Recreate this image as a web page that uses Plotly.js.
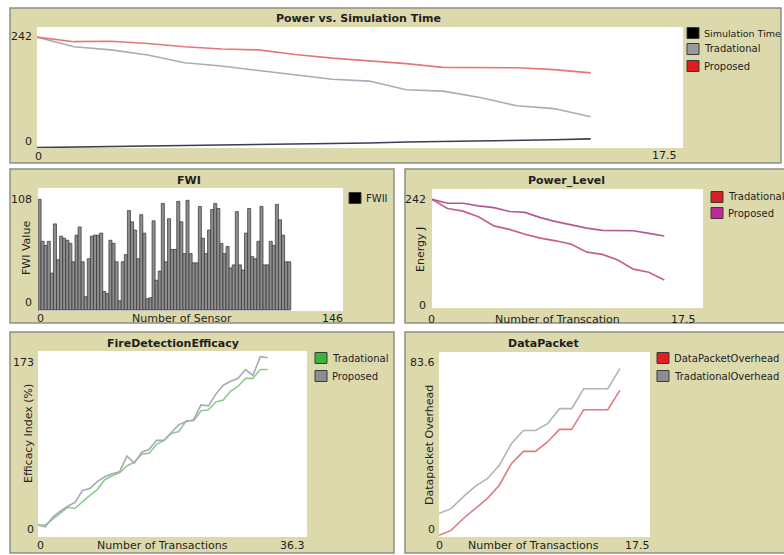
<!DOCTYPE html>
<html>
<head>
<meta charset="utf-8">
<script src="https://cdn.plot.ly/plotly-3.0.1.min.js"></script>
<style>html,body{margin:0;padding:0;background:#fff;}#chart{width:784px;height:555px;}</style>
</head>
<body>
<div id="chart"></div>
<script>
// ---------- DATA ----------
const steps = [0,1,2,3,4,5,6,7,8,9,10,11,12,13,14,15];
const topSimTime = [1,2,3,4,5,6,8,9,10,11,13,14,15,17,18,20];
const topTradational = [242,221,214,203,186,179,169,159,150,146,127,124,110,92,86,68];
const topProposed = [242,232,233,228,221,216,214,204,196,190,184,176,175,175,171,164];

const fwiValues = [108,67,63,67,36,84,49,72,70,68,65,47,73,81,47,13,50,72,73,73,75,18,16,68,65,47,9,47,54,97,86,78,50,93,75,11,12,87,29,38,104,47,89,59,59,106,86,55,107,55,46,46,101,70,55,78,98,104,99,65,55,62,41,44,96,44,39,75,99,52,50,67,101,44,44,67,63,103,88,73,47,47];

const plTradational = [242,221,215,202,181,173,162,153,147,139,121,116,103,82,75,57];
const plProposed = [242,233,233,227,223,214,212,200,191,184,176,171,170,170,164,158];

const fdeX = [0,1,2,3,4,5,6,7,8,9,10,11,12,13,14,15,16,17,18,19,20,21,22,23,24,25,26,27,28,29,30,31];
const fdeTradational = [2,2,8,14,20,19,26,32,38,48,52,55,62,66,74,75,84,88,95,97,108,108,118,119,127,129,138,143,151,151,160,160];
const fdeProposed = [2,0,10,16,21,25,37,39,46,51,54,56,72,65,76,79,88,88,96,104,107,109,124,123,135,144,148,151,160,154,173,172];

const dpOverhead = [0,2.4,8.1,13,17.9,24.4,34.9,40.9,40.9,45.5,51.6,51.6,61.2,61.2,61.2,70.6];
const dpTradOverhead = [10.6,13,18.7,23.9,27.6,34.1,44.6,51.1,51.1,54.4,61.7,61.7,71.4,71.4,71.4,81.2];

// ---------- LAYOUT HELPERS ----------
const W = 784, H = 555;
const px = x => x / W;
const py = y => 1 - y / H;
const FONT = 'DejaVu Sans, Verdana, sans-serif';
const PANEL = '#dcd9ad';

const shapes = [];
const annotations = [];
function rect(x0, y0, x1, y1, fill, line, lw) {
  shapes.push({type:'rect', xref:'paper', yref:'paper', layer:'below',
    x0:px(x0), x1:px(x1), y0:py(y1), y1:py(y0),
    fillcolor:fill, line:{color:line || fill, width: lw === undefined ? 0 : lw}});
}
function txt(text, x, y, xanchor, opts) {
  opts = opts || {};
  annotations.push({text:text, xref:'paper', yref:'paper', x:px(x), y:py(y),
    xanchor:xanchor || 'center', yanchor:'middle', showarrow:false,
    textangle: opts.angle || 0,
    font:{family:FONT, size: opts.size || 11, color: opts.color || '#1e1e1e',
      weight: opts.bold ? 'bold' : 'normal'}});
}
function legendItem(x, y, color, label, size) {
  rect(x, y - 5.5, x + 12, y + 5.5, color, '#3a3a3a', 1);
  txt(label, x + 15, y, 'left', {size: size || 10});
}
function axes(l, t, r, b, xr, yr) {
  return [{domain:[px(l), px(r)], range:xr, visible:false, fixedrange:true},
          {domain:[py(b), py(t)], range:yr, visible:false, fixedrange:true}];
}

// panels
rect(10, 8, 781, 163, PANEL, '#8e8e80', 1.5);
rect(10, 169, 394, 323, PANEL, '#8e8e80', 1.5);
rect(405, 169, 790, 323, PANEL, '#8e8e80', 1.5);
rect(10, 332, 394, 553, PANEL, '#8e8e80', 1.5);
rect(405, 332, 790, 553, PANEL, '#8e8e80', 1.5);
// plot areas
rect(37, 27, 683, 148, '#ffffff');
rect(38, 188, 343, 311, '#ffffff');
rect(432, 189, 703, 308, '#ffffff');
rect(38, 351, 307, 537, '#ffffff');
rect(439, 352, 650, 537, '#ffffff');

// Panel 1 texts
txt('Power vs. Simulation Time', 358, 18, 'center', {bold:true});
txt('242', 34, 37, 'right');
txt('0', 34, 141, 'right');
txt('0', 38, 156, 'center');
txt('17.5', 664, 155, 'center');
legendItem(687, 33, '#000000', 'Simulation Time', 9.5);
legendItem(687, 49, '#9a9a9a', 'Tradational');
legendItem(687, 66, '#e01c1c', 'Proposed');

// Panel 2 texts
txt('FWI', 189, 180, 'center', {bold:true});
txt('108', 34, 199, 'right');
txt('0', 34, 302, 'right');
txt('FWI Value', 26, 248, 'center', {angle:-90});
txt('0', 40, 318, 'center');
txt('Number of Sensor', 182, 318, 'center');
txt('146', 332, 318, 'center');
legendItem(349, 198, '#000000', 'FWII');

// Panel 3 texts
txt('Power_Level', 566, 180, 'center', {bold:true});
txt('242', 428, 199, 'right');
txt('0', 428, 305, 'right');
txt('Energy J', 420, 250, 'center', {angle:-90});
txt('0', 432, 319, 'center');
txt('Number of Transcation', 557, 319, 'center');
txt('17.5', 683, 319, 'center');
legendItem(711, 197, '#d42020', 'Tradational');
legendItem(711, 213, '#c0289a', 'Proposed');

// Panel 4 texts
txt('FireDetectionEfficacy', 173, 343, 'center', {bold:true});
txt('173', 36, 362, 'right');
txt('0', 36, 529, 'right');
txt('Efficacy Index (%)', 28, 434, 'center', {angle:-90});
txt('0', 40, 545, 'center');
txt('Number of Transactions', 162, 545, 'center');
txt('36.3', 292, 545, 'center');
legendItem(315, 358, '#3cb43c', 'Tradational');
legendItem(315, 376, '#8c8c94', 'Proposed');

// Panel 5 texts
txt('DataPacket', 543, 343, 'center', {bold:true});
txt('83.6', 437, 362, 'right');
txt('0', 437, 529, 'right');
txt('Datapacket Overhead', 429, 445, 'center', {angle:-90});
txt('0', 440, 545, 'center');
txt('Number of Transactions', 533, 545, 'center');
txt('17.5', 637, 545, 'center');
legendItem(657, 358, '#e02020', 'DataPacketOverhead');
legendItem(657, 376, '#8c8c94', 'TradationalOverhead');

// ---------- AXES ----------
const [x1, y1] = axes(37, 27, 683, 148, [0, 17.5], [0, 264]);
const [x2, y2] = axes(38, 188, 343, 311, [0, 146], [-1, 119]);
const [x3, y3] = axes(432, 189, 703, 308, [0, 17.5], [-6.9, 265.6]);
const [x4, y4] = axes(38, 351, 307, 537, [0, 36.3], [-10.2, 178.8]);
const [x5, y5] = axes(439, 352, 650, 537, [0, 17.5], [-0.8, 89.3]);

// ---------- TRACES ----------
function line(x, y, color, xa, ya, w) {
  return {type:'scatter', mode:'lines', x:x, y:y, xaxis:xa, yaxis:ya,
    line:{color:color, width: w || 1.6}, hoverinfo:'skip', showlegend:false};
}
const fwiStep = 121 / fwiValues.length;
const fwiX = fwiValues.map((v, i) => (i + 0.5) * fwiStep);

const traces = [
  line(steps, topSimTime, '#3e3e52', 'x', 'y'),
  line(steps, topTradational, '#a9abb8', 'x', 'y'),
  line(steps, topProposed, '#e27878', 'x', 'y'),
  {type:'bar', x:fwiX, y:fwiValues, width:fwiStep, xaxis:'x2', yaxis:'y2',
    marker:{color:'#8d8d8d', line:{color:'#333333', width:0.7}},
    hoverinfo:'skip', showlegend:false},
  line(steps, plTradational, '#c4608a', 'x3', 'y3', 1.7),
  line(steps, plProposed, '#b25a92', 'x3', 'y3', 1.7),
  line(fdeX, fdeTradational, '#8fcb8f', 'x4', 'y4'),
  line(fdeX, fdeProposed, '#a8a8b8', 'x4', 'y4'),
  line(steps, dpTradOverhead, '#b2b2bc', 'x5', 'y5'),
  line(steps, dpOverhead, '#e07a80', 'x5', 'y5')
];

const layout = {
  width: W, height: H,
  margin:{l:0, r:0, t:0, b:0},
  paper_bgcolor:'#ffffff', plot_bgcolor:'rgba(0,0,0,0)',
  showlegend:false, bargap:0,
  xaxis:x1, yaxis:y1, xaxis2:x2, yaxis2:y2, xaxis3:x3, yaxis3:y3,
  xaxis4:x4, yaxis4:y4, xaxis5:x5, yaxis5:y5,
  shapes:shapes, annotations:annotations,
  font:{family:FONT, size:11}
};
Plotly.newPlot('chart', traces, layout, {displayModeBar:false, staticPlot:true});
</script>
</body>
</html>
